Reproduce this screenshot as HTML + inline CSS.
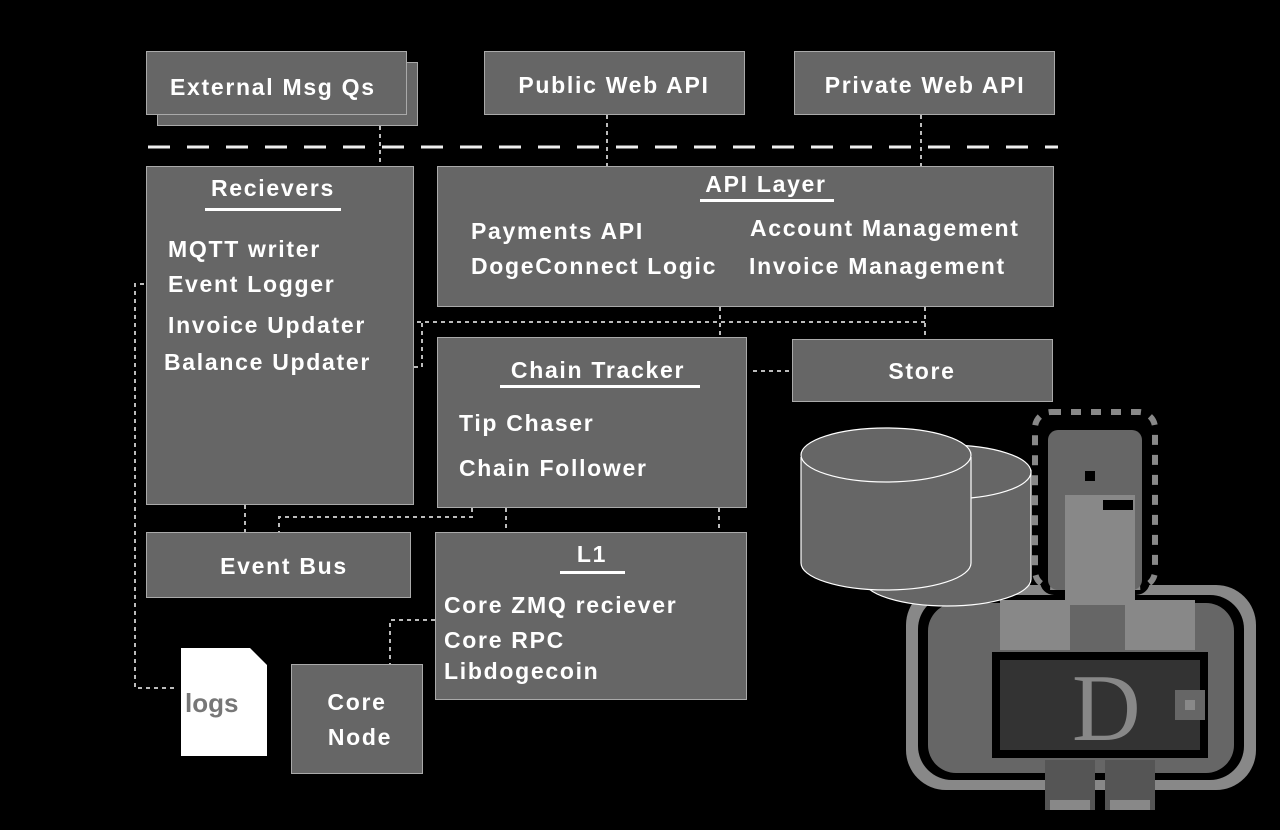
<!DOCTYPE html>
<html><head><meta charset="utf-8"><style>
body{margin:0;background:#000;width:1280px;height:830px;overflow:hidden;position:relative;font-family:"Liberation Sans",sans-serif;}
.b{position:absolute;background:#666;border:1px solid #aaa;box-sizing:border-box}
.t{position:absolute;color:#fff;font-weight:bold;font-size:23px;letter-spacing:1.7px;white-space:nowrap;line-height:1}
.c{transform:translateX(-50%)}
.u{position:absolute;height:3px;background:#fff}
svg{position:absolute;left:0;top:0}
</style></head><body>
<svg width="1280" height="830">
<rect x="906" y="585" width="350" height="205" rx="40" fill="#888"/>
<rect x="918" y="595" width="326" height="185" rx="34" fill="#000"/>
<rect x="928" y="603" width="306" height="170" rx="28" fill="#666"/>
<rect x="1040" y="420" width="110" height="175" rx="14" fill="#000"/>
<rect x="1035" y="412" width="120" height="175" rx="16" fill="none" stroke="#888" stroke-width="6" stroke-dasharray="10 10"/>
<rect x="1048" y="430" width="94" height="160" rx="10" fill="#666"/>
<rect x="1065" y="495" width="70" height="110" fill="#888"/>
<rect x="1000" y="600" width="70" height="50" fill="#888"/>
<rect x="1125" y="600" width="70" height="50" fill="#888"/>
<rect x="1085" y="471" width="10" height="10" fill="#000"/>
<rect x="1103" y="500" width="30" height="10" fill="#000"/>
<rect x="992" y="652" width="216" height="106" fill="#000"/>
<rect x="1000" y="660" width="200" height="90" fill="#333"/>
<text x="1072" y="740" fill="#888" font-family="Liberation Serif" font-size="95">D</text>
<rect x="1175" y="690" width="30" height="30" fill="#666"/>
<rect x="1185" y="700" width="10" height="10" fill="#888"/>
<rect x="1045" y="760" width="50" height="50" fill="#555"/>
<rect x="1105" y="760" width="50" height="50" fill="#555"/>
<rect x="1050" y="800" width="40" height="10" fill="#888"/>
<rect x="1110" y="800" width="40" height="10" fill="#888"/>
<g fill="#666" stroke="#fff" stroke-width="1.2">
<path d="M863,470 v109 a84,27 0 0 0 168,0 v-109"/>
<ellipse cx="947" cy="472" rx="84" ry="27"/>
<path d="M801,457 v106 a85,27 0 0 0 170,0 v-106"/>
<ellipse cx="886" cy="455" rx="85" ry="27"/>
</g>
<line x1="148" y1="147" x2="1058" y2="147" stroke="#eee" stroke-width="3" stroke-dasharray="22 17"/>
<g fill="none" stroke="#bbb" stroke-width="2" stroke-dasharray="4 4">
<path d="M380,126 V252 H352"/>
<path d="M607,115 V166 M921,115 V166"/>
<path d="M160,284 H135 V688 H178"/>
<path d="M393,322 H925 M925,307 V339 M720,307 V337"/>
<path d="M390,367 H422 V322"/>
<path d="M753,371 H800"/>
<path d="M245,505 V532 M472,508 V517 H279 V532 M506,508 V532 M719,508 V532"/>
<path d="M435,620 H390 V664"/>
</g>
<path d="M181,648 H250 L267,665 V756 H181 Z" fill="#fff"/>
<text x="185" y="712" fill="#777" font-family="Liberation Sans" font-weight="bold" font-size="26">logs</text>
</svg>
<div class="b" style="left:157px;top:62px;width:261px;height:64px"></div>
<div class="b" style="left:146px;top:51px;width:261px;height:64px"></div>
<div class="t" style="left:170px;top:76px">External Msg Qs</div>
<div class="b" style="left:484px;top:51px;width:261px;height:64px"></div>
<div class="t c" style="left:614px;top:74px">Public Web API</div>
<div class="b" style="left:794px;top:51px;width:261px;height:64px"></div>
<div class="t c" style="left:925px;top:74px">Private Web API</div>
<div class="b" style="left:146px;top:166px;width:268px;height:339px"></div>
<div class="t c" style="left:273px;top:177px">Recievers</div>
<div class="u" style="left:205px;top:208px;width:136px"></div>
<div class="t" style="left:168px;top:238px">MQTT writer</div>
<div class="t" style="left:168px;top:273px">Event Logger</div>
<div class="t" style="left:168px;top:314px">Invoice Updater</div>
<div class="t" style="left:164px;top:351px">Balance Updater</div>
<div class="b" style="left:437px;top:166px;width:617px;height:141px"></div>
<div class="t c" style="left:766px;top:173px">API Layer</div>
<div class="u" style="left:700px;top:199px;width:134px"></div>
<div class="t" style="left:471px;top:220px">Payments API</div>
<div class="t" style="left:471px;top:255px">DogeConnect Logic</div>
<div class="t" style="left:750px;top:217px">Account Management</div>
<div class="t" style="left:749px;top:255px">Invoice Management</div>
<div class="b" style="left:437px;top:337px;width:310px;height:171px"></div>
<div class="t c" style="left:598px;top:359px">Chain Tracker</div>
<div class="u" style="left:500px;top:385px;width:200px"></div>
<div class="t" style="left:459px;top:412px">Tip Chaser</div>
<div class="t" style="left:459px;top:457px">Chain Follower</div>
<div class="b" style="left:792px;top:339px;width:261px;height:63px"></div>
<div class="t c" style="left:922px;top:360px">Store</div>
<div class="b" style="left:146px;top:532px;width:265px;height:66px"></div>
<div class="t c" style="left:284px;top:555px">Event Bus</div>
<div class="b" style="left:435px;top:532px;width:312px;height:168px"></div>
<div class="t c" style="left:592px;top:543px">L1</div>
<div class="u" style="left:560px;top:571px;width:65px"></div>
<div class="t" style="left:444px;top:594px">Core ZMQ reciever</div>
<div class="t" style="left:444px;top:629px">Core RPC</div>
<div class="t" style="left:444px;top:660px">Libdogecoin</div>
<div class="b" style="left:291px;top:664px;width:132px;height:110px"></div>
<div class="t c" style="left:357px;top:691px">Core</div>
<div class="t c" style="left:360px;top:726px">Node</div>
</body></html>
